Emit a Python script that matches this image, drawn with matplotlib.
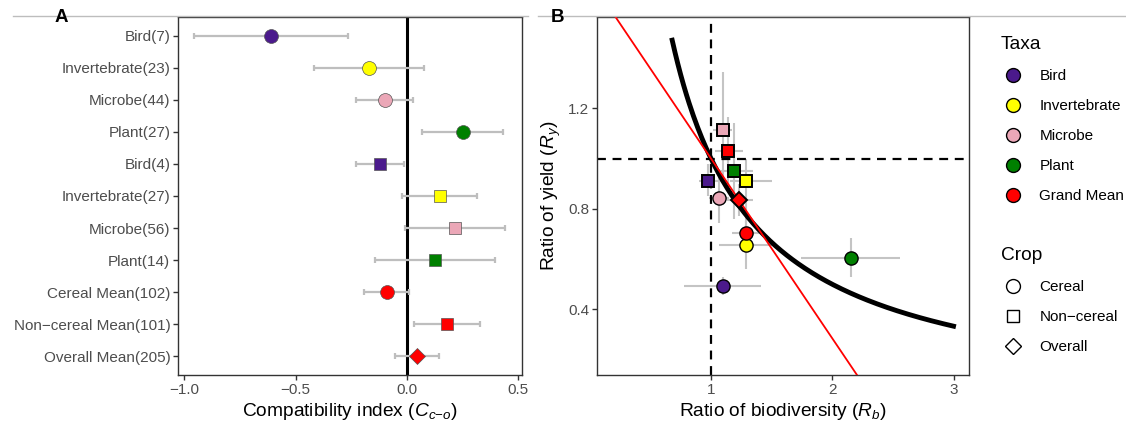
import matplotlib
matplotlib.use("Agg")
import matplotlib.pyplot as plt
from matplotlib.lines import Line2D
import numpy as np

plt.rcParams['font.family'] = ['Liberation Sans', 'DejaVu Sans']
plt.rcParams['mathtext.fontset'] = 'custom'
plt.rcParams['mathtext.rm'] = 'Liberation Sans'
plt.rcParams['mathtext.it'] = 'Liberation Sans:italic'

# colours
taxa_colors = {'Bird': '#4B1A8C', 'Invertebrate': '#FFFF00', 'Microbe': '#EBA7B7',
               'Plant': '#008000', 'Grand Mean': '#FF0000'}
crop_markers = {'Cereal': 'o', 'Non-cereal': 's', 'Overall': 'D'}
marker_size = {'o': 10, 's': 8.5, 'D': 8.5}

# ---- panel A data ----
a_labels = ['Bird(7)', 'Invertebrate(23)', 'Microbe(44)', 'Plant(27)',
            'Bird(4)', 'Invertebrate(27)', 'Microbe(56)', 'Plant(14)',
            'Cereal Mean(102)', 'Non\u2212cereal Mean(101)', 'Overall Mean(205)']
a_taxa = ['Bird', 'Invertebrate', 'Microbe', 'Plant',
          'Bird', 'Invertebrate', 'Microbe', 'Plant',
          'Grand Mean', 'Grand Mean', 'Grand Mean']
a_crop = ['Cereal'] * 4 + ['Non-cereal'] * 4 + ['Cereal', 'Non-cereal', 'Overall']
a_mean = [-0.611, -0.168, -0.099, 0.253, -0.122, 0.148, 0.218, 0.127, -0.090, 0.181, 0.045]
a_low = [-0.958, -0.417, -0.227, 0.071, -0.230, -0.019, -0.009, -0.141, -0.192, 0.034, -0.051]
a_high = [-0.266, 0.079, 0.029, 0.433, -0.012, 0.317, 0.444, 0.396, 0.012, 0.329, 0.144]

# ---- panel B data ----
b_taxa = ['Bird', 'Invertebrate', 'Microbe', 'Plant', 'Grand Mean',
          'Bird', 'Invertebrate', 'Microbe', 'Plant', 'Grand Mean', 'Grand Mean']
b_crop = ['Cereal'] * 5 + ['Non-cereal'] * 5 + ['Overall']
b_rb = [1.096, 1.285, 1.063, 2.152, 1.292, 0.974, 1.285, 1.101, 1.192, 1.144, 1.233]
b_rb_low = [0.78, 1.065, 0.98, 1.74, 1.175, 0.90, 1.16, 1.02, 1.06, 1.03, 1.13]
b_rb_high = [1.41, 1.50, 1.15, 2.56, 1.405, 1.10, 1.50, 1.17, 1.35, 1.26, 1.35]
b_ry = [0.495, 0.656, 0.845, 0.606, 0.703, 0.911, 0.911, 1.115, 0.951, 1.030, 0.834]
b_ry_low = [0.458, 0.56, 0.745, 0.527, 0.66, 0.85, 0.745, 0.91, 0.76, 0.90, 0.77]
b_ry_high = [0.530, 0.75, 0.95, 0.682, 0.75, 0.98, 1.00, 1.345, 1.14, 1.165, 0.90]

# reference lines in B
fit_intercept = 1.715
fit_slope = -0.715
curve_from, curve_to = 0.68, 3.0   # Rb * Ry = 1

fig = plt.figure(figsize=(11.26, 4.25), dpi=100)
ax1 = fig.add_axes([178 / 1126, 1 - 375.3 / 425, (521.5 - 178) / 1126, (375.3 - 16.7) / 425])
ax2 = fig.add_axes([597 / 1126, 1 - 375.3 / 425, (969.3 - 597) / 1126, (375.3 - 16.7) / 425])

# top border line of the screenshot
fig.add_artist(Line2D([13 / 1126, 528 / 1126], [1 - 15.7 / 425] * 2, color='#BDBDBD', lw=1))
fig.add_artist(Line2D([538 / 1126, 1], [1 - 15.7 / 425] * 2, color='#BDBDBD', lw=1))

tick_col = '#4D4D4D'
for ax in (ax1, ax2):
    for s in ax.spines.values():
        s.set_color('#333333')
        s.set_linewidth(1.0)
    ax.tick_params(axis='both', length=3.5, width=1.0, color='#333333',
                   labelsize=11, labelcolor=tick_col, pad=2)

# ---- panel A ----
ypos = np.arange(len(a_labels))
ax1.axvline(0, color='black', lw=2.2, zorder=1)
ax1.errorbar(a_mean, ypos, xerr=[np.array(a_mean) - np.array(a_low), np.array(a_high) - np.array(a_mean)],
             fmt='none', ecolor='#BEBEBE', elinewidth=1.6, capsize=2.5, capthick=1.6, zorder=2)
for i in range(len(a_labels)):
    m = crop_markers[a_crop[i]]
    size = {'o': 10, 's': 8.5, 'D': 8}[m]
    ax1.plot(a_mean[i], ypos[i], marker=m, ms=size, color=taxa_colors[a_taxa[i]],
             mec='#555555', mew=0.5, zorder=3)
ax1.set_yticks(ypos)
ax1.set_yticklabels(a_labels)
ax1.set_ylim(len(a_labels) - 0.4, -0.6)
ax1.set_xlim(-1.029, 0.517)
ax1.set_xticks([-1.0, -0.5, 0.0, 0.5])
ax1.set_xticklabels(['\u22121.0', '\u22120.5', '0.0', '0.5'])
ax1.set_xlabel(r'Compatibility index ($C_{c{-}o}$)', fontsize=13.75, labelpad=3)

# ---- panel B ----
ax2.errorbar(b_rb, b_ry,
             xerr=[np.array(b_rb) - np.array(b_rb_low), np.array(b_rb_high) - np.array(b_rb)],
             yerr=[np.array(b_ry) - np.array(b_ry_low), np.array(b_ry_high) - np.array(b_ry)],
             fmt='none', ecolor='#C4C4C4', elinewidth=1.5, zorder=1)
ax2.axhline(1, color='black', lw=1.6, ls=(0, (4, 3)), zorder=2)
ax2.axvline(1, color='black', lw=1.6, ls=(0, (4, 3)), zorder=2)
cx = np.linspace(curve_from, curve_to, 200)
ax2.plot(cx, 1 / cx, color='black', lw=3.5, zorder=3)
ax2.axline((0, fit_intercept), slope=fit_slope, color='#FF0000', lw=1.3, zorder=4)
for i in range(len(b_rb)):
    m = crop_markers[b_crop[i]]
    size = {'o': 9.5, 's': 8.5, 'D': 8.5}[m]
    mew = 1.0 if m == 'o' else 1.4
    ax2.plot(b_rb[i], b_ry[i], marker=m, ms=size, color=taxa_colors[b_taxa[i]],
             mec='black', mew=mew, zorder=5)
ax2.set_xlim(0.06, 3.13)
ax2.set_ylim(0.138, 1.564)
ax2.set_xticks([1, 2, 3])
ax2.set_yticks([0.4, 0.8, 1.2])
ax2.set_yticklabels(['0.4', '0.8', '1.2'])
ax2.set_xlabel(r'Ratio of biodiversity ($R_b$)', fontsize=13.75, labelpad=3)
ax2.set_ylabel(r'Ratio of yield ($R_y$)', fontsize=13.75, labelpad=4)

# legends
taxa_handles = [Line2D([], [], marker='o', ls='none', ms=10, color=c, mec='black', mew=1.0)
                for c in taxa_colors.values()]
leg1 = fig.legend(taxa_handles, list(taxa_colors.keys()), title='Taxa', loc='upper left',
                  bbox_to_anchor=(995 / 1126, 1 - 30 / 425), frameon=False, fontsize=11,
                  title_fontsize=13.75, alignment='left', labelspacing=1.05,
                  handletextpad=0.9, handlelength=1.6, borderaxespad=0)
crop_keys = ['Cereal', 'Non-cereal', 'Overall']
crop_labels = ['Cereal', 'Non\u2212cereal', 'Overall']
crop_handles = [Line2D([], [], marker=crop_markers[k], ls='none', ms=marker_size[crop_markers[k]],
                       mfc='white', mec='black', mew=1.0)
                for k in crop_keys]
leg2 = fig.legend(crop_handles, crop_labels, title='Crop', loc='upper left',
                  bbox_to_anchor=(995 / 1126, 1 - 241 / 425), frameon=False, fontsize=11,
                  title_fontsize=13.75, alignment='left', labelspacing=1.05,
                  handletextpad=0.9, handlelength=1.6, borderaxespad=0)

fig.text(61 / 1126, 1 - 18 / 425, 'A', fontsize=13.5, fontweight='bold', ha='center', va='center')
fig.text(558 / 1126, 1 - 17.5 / 425, 'B', fontsize=13.5, fontweight='bold', ha='center', va='center')

fig.savefig('out.png', dpi=100)
